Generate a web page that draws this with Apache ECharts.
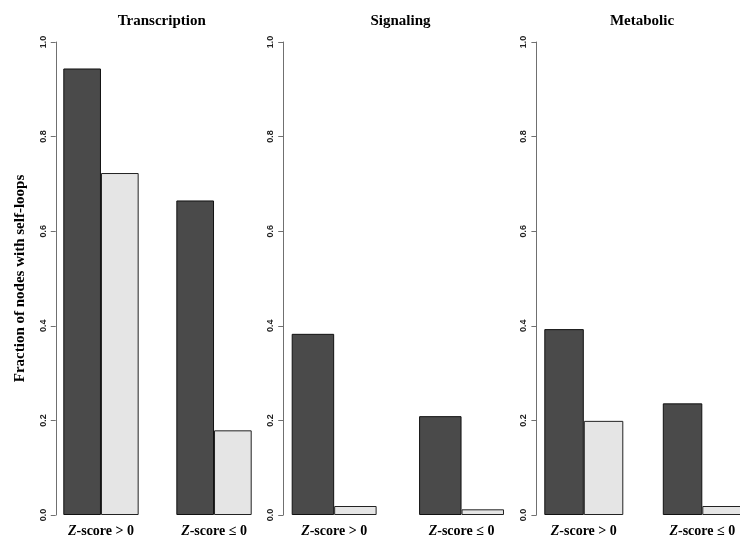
<!DOCTYPE html>
<html>
<head>
<meta charset="utf-8">
<script src="https://cdn.jsdelivr.net/npm/echarts@6/dist/echarts.min.js"></script>
<style>
  html, body { margin: 0; padding: 0; background: #fff; }
  #chart { width: 740px; height: 541px; }
</style>
</head>
<body>
<div id="chart"></div>
<script>
// Network classes, one panel each
const panelTitles = ['Transcription', 'Signaling', 'Metabolic'];
// Groups of nodes by Z-score
const groups = ['Z-score > 0', 'Z-score ≤ 0'];
// Fraction of nodes with self-loops (dark = first set, light = second set)
const transcriptionDark  = [0.944, 0.665];
const transcriptionLight = [0.723, 0.179];
const signalingDark      = [0.383, 0.209];
const signalingLight     = [0.019, 0.012];
const metabolicDark      = [0.393, 0.236];
const metabolicLight     = [0.199, 0.019];
const yTicks = [0, 0.2, 0.4, 0.6, 0.8, 1.0];

const darkSets  = [transcriptionDark, signalingDark, metabolicDark];
const lightSets = [transcriptionLight, signalingLight, metabolicLight];

// Panel geometry: bar unit width (px) and left edge of the first bar
const panelLayout = [
  { unit: 37.68, firstBar: 63.3 },
  { unit: 42.46, firstBar: 291.7 },
  { unit: 39.5,  firstBar: 544.3 }
];
const plotTop = 42, plotHeight = 473;
const serif = '"Liberation Serif", "DejaVu Serif", serif';

const chart = echarts.init(document.getElementById('chart'), null, { renderer: 'canvas' });

const grids = [], xAxes = [], yAxes = [], series = [], titles = [];
panelLayout.forEach((p, i) => {
  // Each category band spans 3 bar units; bars take 2 units, centred.
  grids.push({
    left: p.firstBar - 0.5 * p.unit,
    top: plotTop,
    width: 6 * p.unit,
    height: plotHeight,
    containLabel: false,
    outerBoundsMode: 'none'
  });
  xAxes.push({
    type: 'category',
    gridIndex: i,
    data: groups,
    axisLine: { show: false },
    axisTick: { show: false },
    axisLabel: {
      interval: 0,
      hideOverlap: false,
      margin: 9,
      formatter: v => '{i|Z}{b|' + v.slice(1) + '}',
      rich: {
        i: { fontFamily: serif, fontWeight: 'bold', fontStyle: 'italic', fontSize: 14, color: '#000' },
        b: { fontFamily: serif, fontWeight: 'bold', fontSize: 14, color: '#000' }
      }
    }
  });
  yAxes.push({
    type: 'value',
    gridIndex: i,
    min: yTicks[0],
    max: yTicks[yTicks.length - 1],
    interval: 0.2,
    offset: -0.3 * p.unit,
    splitLine: { show: false },
    axisLine: { show: true, lineStyle: { color: '#707070', width: 1 } },
    axisTick: { show: true, length: 5, lineStyle: { color: '#707070' } },
    axisLabel: {
      rotate: 90,
      margin: 8,
      fontSize: 9,
      fontWeight: 'bold',
      fontFamily: '"Liberation Sans", sans-serif',
      color: '#222',
      formatter: v => v.toFixed(1)
    },
    name: i === 0 ? 'Fraction of nodes with self-loops' : '',
    nameLocation: 'middle',
    nameRotate: 90,
    nameGap: 28,
    nameTextStyle: { fontFamily: serif, fontWeight: 'bold', fontSize: 15, color: '#000' }
  });
  series.push({
    type: 'bar',
    xAxisIndex: i, yAxisIndex: i,
    data: darkSets[i],
    barWidth: '33.333%',
    barGap: '0%',
    itemStyle: { color: '#4a4a4a', borderColor: '#111', borderWidth: 1 },
    silent: true
  });
  series.push({
    type: 'bar',
    xAxisIndex: i, yAxisIndex: i,
    data: lightSets[i],
    barWidth: '33.333%',
    barGap: '0%',
    itemStyle: { color: '#e5e5e5', borderColor: '#222', borderWidth: 1 },
    silent: true
  });
});

// Panel titles centred above each plot region
const titleCentres = [161.7, 400.5, 642];
panelTitles.forEach((t, i) => {
  titles.push({
    text: t,
    left: titleCentres[i],
    top: 14,
    padding: 0,
    textAlign: 'center',
    textStyle: { fontFamily: serif, fontWeight: 'bold', fontSize: 15, color: '#000' }
  });
});

chart.setOption({
  animation: false,
  backgroundColor: '#fff',
  title: titles,
  grid: grids,
  xAxis: xAxes,
  yAxis: yAxes,
  series: series
});
</script>
</body>
</html>
